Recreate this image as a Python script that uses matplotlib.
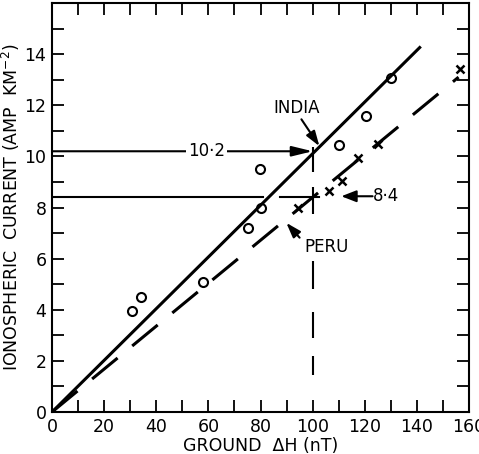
import matplotlib.pyplot as plt

# India: circles, Peru: crosses
india_x = [30.5, 34.1, 58.0, 75.2, 80.3, 79.7, 110.3, 120.6, 130.1]
india_y = [3.97, 4.48, 5.07, 7.2, 7.99, 9.52, 10.44, 11.58, 13.08]
peru_x = [94.4, 106.2, 111.4, 117.4, 125.0, 156.6]
peru_y = [7.99, 8.64, 9.03, 9.95, 10.47, 13.41]

# fitted lines
india_fit_x = [0, 141.5]
india_fit_y = [0, 14.3]
peru_fit_x = [0, 156]
peru_fit_y = [0, 13.1]

india_at_100 = 10.2
peru_at_100 = 8.4

fig = plt.figure(figsize=(4.79, 4.54), dpi=100)
ax = fig.add_axes([0.1086, 0.0925, 0.8705, 0.9009])
plt.rcParams['font.family'] = ['DejaVu Sans']

ax.plot(india_fit_x, india_fit_y, color='k', lw=2.2, solid_capstyle='butt')
ln, = ax.plot(peru_fit_x, peru_fit_y, color='k', lw=2.2, solid_capstyle='butt',
              dash_capstyle='butt')
ln.set_dashes((10.8, 6.2))

ax.plot(india_x, india_y, 'o', mfc='none', mec='k', ms=6.5, mew=1.5)
ax.plot(peru_x, peru_y, 'x', color='k', ms=6, mew=1.8)

# guide lines at 100 nT
ax.annotate('', xy=(100, india_at_100), xytext=(0, india_at_100),
            arrowprops=dict(arrowstyle='-|>,head_length=0.9,head_width=0.22',
                            lw=1.5, color='k', mutation_scale=14,
                            shrinkA=0, shrinkB=0))
ax.text(59.4, india_at_100, '10·2', ha='center', va='center', fontsize=12,
        bbox=dict(fc='white', ec='none', pad=1.5))
ax.plot([0, 81], [peru_at_100, peru_at_100], color='k', lw=1.5)
ax.plot([87.4, 102.5], [peru_at_100, peru_at_100], color='k', lw=1.5)
ax.vlines(100, 9.4, 10.35, color='k', lw=1.5)
for y0, y1 in [(7.75, 8.8), (4.8, 5.9), (2.9, 3.9), (1.45, 2.2)]:
    ax.vlines(100, y0, y1, color='k', lw=1.5)

arrow = dict(arrowstyle='-|>,head_length=0.9,head_width=0.3', lw=1.5,
             color='k', mutation_scale=10, shrinkA=0, shrinkB=0)
ax.annotate('', xy=(102.6, 10.4), xytext=(95.7, 11.45), arrowprops=arrow)
ax.text(93.7, 11.9, 'INDIA', ha='center', va='center', fontsize=12)
ax.annotate('', xy=(89.9, 7.4), xytext=(95, 6.82), arrowprops=arrow)
ax.text(105.4, 6.46, 'PERU', ha='center', va='center', fontsize=12)
ax.annotate('', xy=(111, 8.44), xytext=(123, 8.44),
            arrowprops=dict(arrow, arrowstyle='-|>,head_length=0.9,head_width=0.35'))
ax.text(128.3, 8.44, '8·4', ha='center', va='center', fontsize=12)

ax.set_xlim(0, 160)
ax.set_ylim(0, 16)
ax.set_xticks(range(0, 161, 20))
ax.set_xticks(range(10, 160, 10), minor=True)
ax.set_yticks(range(0, 15, 2))
ax.set_yticks(range(1, 16), minor=True)
ax.tick_params(which='both', direction='in', length=8.5, width=1.3,
               top=True, right=True, labelsize=12.5, pad=4)
for s in ax.spines.values():
    s.set_linewidth(1.5)

ax.set_xlabel('GROUND  ΔH (nT)', fontsize=12.5, labelpad=1)
ax.set_ylabel('IONOSPHERIC  CURRENT (AMP  KM$^{-2}$)', fontsize=12.5, labelpad=2)

fig.savefig('out.png', dpi=100)
